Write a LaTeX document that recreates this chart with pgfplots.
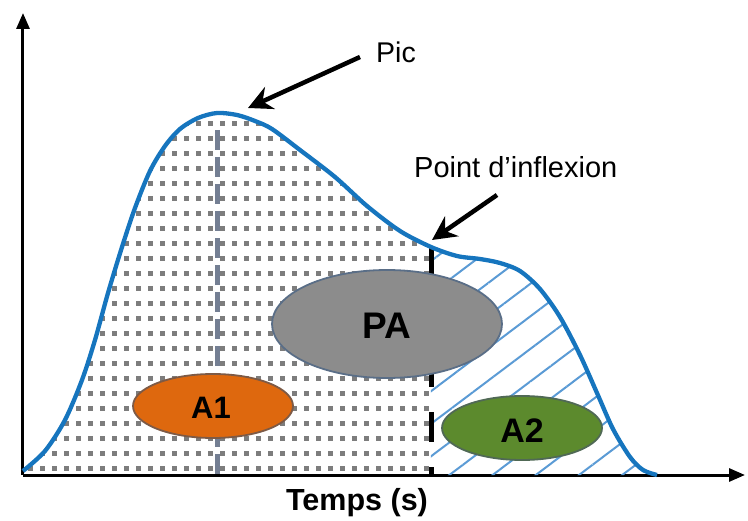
\documentclass[border=0pt]{standalone}
\usepackage{fontspec}
\setmainfont{Liberation Sans}
\usepackage{pgfplots}
\pgfplotsset{compat=1.18}
\usepgfplotslibrary{fillbetween}
\usetikzlibrary{patterns,patterns.meta,arrows.meta}

\definecolor{curveblue}{RGB}{22,117,190}
\definecolor{hatchblue}{RGB}{91,155,213}
\definecolor{dotgray}{RGB}{125,125,125}
\definecolor{slate}{RGB}{92,104,128}
\definecolor{pagray}{RGB}{140,140,140}
\definecolor{palight}{RGB}{165,165,165}
\definecolor{paedge}{RGB}{90,110,135}
\definecolor{aorange}{RGB}{222,104,14}
\definecolor{aorangel}{RGB}{240,125,30}
\definecolor{aoedge}{RGB}{125,90,70}
\definecolor{agreen}{RGB}{92,138,45}
\definecolor{agreenl}{RGB}{112,160,60}
\definecolor{agedge}{RGB}{80,105,85}

% small grey squares, one every 12 x 15
\pgfdeclarepatternformonly{graysq}{\pgfqpoint{-1pt}{-1pt}}{\pgfqpoint{13pt}{16pt}}{\pgfqpoint{12pt}{15pt}}{%
  \pgfpathrectangle{\pgfqpoint{4pt}{5pt}}{\pgfqpoint{4.5pt}{4.5pt}}\pgfusepath{fill}}

\pgfplotstableread{
x   y
23  46
45  66
65  97
82  137
95  177
108 224
122 270
135 309
150 346
165 371
180 388
198 399
217 404
237 402
255 396
272 388
300 367
335 340
367 311
400 286
431 270
457 261
480 258
500 254
520 246
540 228
560 200
580 162
597 124
613 88
630 60
643 47
657 42
}\signal

\begin{document}
\begin{tikzpicture}
\begin{axis}[
    scale only axis,
    width=722pt, height=462pt,
    xmin=23, xmax=745, ymin=42, ymax=504,
    axis lines=left,
    axis line style={line width=3pt, -{Triangle[length=16pt,width=13pt]}},
    ticks=none,
    clip=false,
    xlabel={\fontsize{30.5}{32}\selectfont\bfseries Temps (s)},
    xlabel style={at={(axis description cs:0.4626,-0.0779)}, anchor=base},
]
% bounding box of the whole picture
\path (axis cs:0,0) rectangle (axis cs:748,517);

\addplot[draw=none, name path=base, forget plot] coordinates {(23,42) (660,42)};
\addplot[draw=none, name path=curve, smooth, forget plot] table {\signal};

\addplot[pattern=graysq, pattern color=dotgray, draw=none]
    fill between[of=curve and base, soft clip={domain=23:431}];
\addplot[pattern={Lines[angle=37,distance=26pt,line width=2pt]}, pattern color=hatchblue, draw=none]
    fill between[of=curve and base, soft clip={domain=431:660}];

% reference lines
\draw[slate, opacity=0.85, line width=5pt, dash pattern=on 20pt off 7pt] (axis cs:217,387) -- (axis cs:217,42);
\draw[black, line width=5pt, dash pattern=on 30pt off 25pt] (axis cs:431,270) -- (axis cs:431,42);

% the curve
\addplot[curveblue, line width=4.3pt, smooth] table {\signal};

% areas
\draw[paedge, line width=1.8pt, left color=pagray, middle color=palight, right color=pagray]
    (axis cs:387,193) ellipse [x radius=115, y radius=54];
\draw[aoedge, line width=1.8pt, left color=aorange, middle color=aorangel, right color=aorange]
    (axis cs:213,111) ellipse [x radius=80, y radius=32];
\draw[agedge, line width=1.8pt, left color=agreen, middle color=agreenl, right color=agreen]
    (axis cs:522,89) ellipse [x radius=80, y radius=32];

\node[anchor=base] at (axis cs:387,179) {\fontsize{37}{40}\selectfont\bfseries PA};
\node[anchor=base] at (axis cs:211,99) {\fontsize{31}{34}\selectfont\bfseries A1};
\node[anchor=base] at (axis cs:522,75) {\fontsize{34}{36}\selectfont\bfseries A2};

% annotations
\draw[line width=4.5pt, -{Stealth[length=24pt,width=24pt,inset=8pt]}]
    (axis cs:360,460) -- (axis cs:248,409);
\draw[line width=4.5pt, -{Stealth[length=24pt,width=24pt,inset=8pt]}]
    (axis cs:497,322) -- (axis cs:432,277);
\node[anchor=base west, inner sep=0pt] at (axis cs:376,454) {\fontsize{28.5}{30}\selectfont Pic};
\node[anchor=base west, inner sep=0pt] at (axis cs:414,339) {\fontsize{29}{31}\selectfont Point d’inflexion};
\end{axis}
\end{tikzpicture}
\end{document}
